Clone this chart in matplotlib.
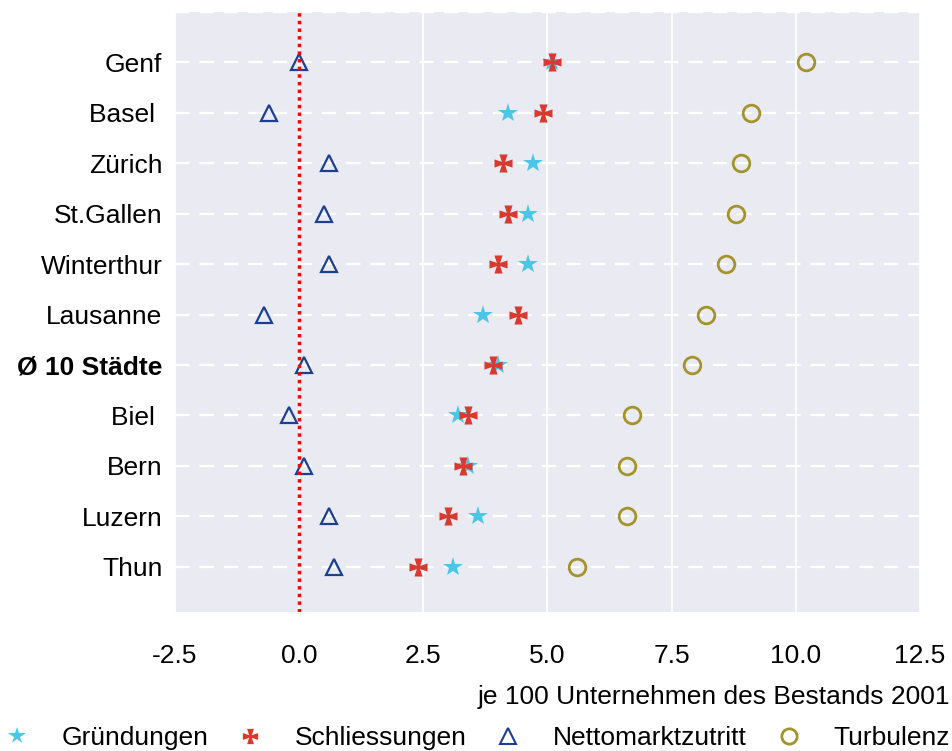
import matplotlib
matplotlib.use("Agg")
import matplotlib.pyplot as plt
from matplotlib.path import Path
from matplotlib.lines import Line2D
import numpy as np

cities = ["Genf", "Basel ", "Zürich", "St.Gallen", "Winterthur", "Lausanne",
          "Ø 10 Städte", "Biel ", "Bern", "Luzern", "Thun"]
gruendungen = [5.1, 4.2, 4.7, 4.6, 4.6, 3.7, 4.0, 3.2, 3.4, 3.6, 3.1]
schliessungen = [5.1, 4.9, 4.1, 4.2, 4.0, 4.4, 3.9, 3.4, 3.3, 3.0, 2.4]
netto = [0.0, -0.6, 0.6, 0.5, 0.6, -0.7, 0.1, -0.2, 0.1, 0.6, 0.7]
turbulenz = [10.2, 9.1, 8.9, 8.8, 8.6, 8.2, 7.9, 6.7, 6.6, 6.6, 5.6]
xticks = [-2.5, 0.0, 2.5, 5.0, 7.5, 10.0, 12.5]

c_star = "#4cc6e6"
c_cross = "#d93a2f"
c_tri = "#1c3f91"
c_circ = "#a3932c"
bg = "#eaeaf2"

# cross pattee marker
a, b = 0.18, 0.45
verts = [(a, a), (b, 1), (-b, 1), (-a, a), (-1, b), (-1, -b), (-a, -a),
         (-b, -1), (b, -1), (a, -a), (1, -b), (1, b), (a, a)]
codes = [Path.MOVETO] + [Path.LINETO] * (len(verts) - 2) + [Path.CLOSEPOLY]
cross = Path(verts, codes)

plt.rcParams['font.family'] = ['Liberation Sans', 'DejaVu Sans']
fs = 19

fig = plt.figure(figsize=(9.53, 7.51), dpi=100)
ax = fig.add_axes([175/953, 1-612/751, (920-175)/953, 600/751])
ax.set_facecolor(bg)
for s in ax.spines.values():
    s.set_visible(False)

n = len(cities)
y = np.arange(n, 0, -1)  # Genf at top

ax.set_xlim(-2.5, 12.5)
ax.set_ylim(0.1, 12)
ax.set_xticks(xticks)
ax.set_xticklabels([f"{v:.1f}" for v in xticks])
ax.set_yticks(list(y) + [12])
ax.set_yticklabels(cities + [""])
for lab in ax.get_yticklabels():
    if lab.get_text().startswith("Ø"):
        lab.set_fontweight("bold")
ax.tick_params(axis='both', length=0, labelsize=fs)
ax.tick_params(axis='x', pad=23)
ax.tick_params(axis='y', pad=9)

ax.set_axisbelow(True)
ax.grid(axis='x', color='white', linewidth=1.3, linestyle='-')
ax.grid(axis='y', color='white', linewidth=1.6, linestyle=(0, (6.5, 4.5)))

ax.plot(gruendungen, y, linestyle='none', marker='*', color=c_star, markersize=14.5,
        markeredgewidth=0, zorder=3)
ax.plot(schliessungen, y, linestyle='none', marker=cross, color=c_cross, markersize=13,
        markeredgewidth=0, zorder=4)
ax.plot(netto, y, linestyle='none', marker='^', markerfacecolor='none', markeredgecolor=c_tri,
        markersize=12, markeredgewidth=1.6, zorder=5)
ax.plot(turbulenz, y, linestyle='none', marker='o', markerfacecolor='none', markeredgecolor=c_circ,
        markersize=12, markeredgewidth=2, zorder=5)
ax.axvline(0, color='red', linestyle=(0, (1, 1.2)), linewidth=2.5, zorder=6)

fig.text(950/953, 1-697/751, "je 100 Unternehmen des Bestands 2001", ha='right', va='center',
         fontsize=fs)

handles = [
    Line2D([], [], linestyle='none', marker='*', color=c_star, markersize=13, markeredgewidth=0),
    Line2D([], [], linestyle='none', marker=cross, color=c_cross, markersize=11, markeredgewidth=0),
    Line2D([], [], linestyle='none', marker='^', markerfacecolor='none', markeredgecolor=c_tri,
           markersize=11, markeredgewidth=1.5),
    Line2D([], [], linestyle='none', marker='o', markerfacecolor='none', markeredgecolor=c_circ,
           markersize=11, markeredgewidth=2),
]
labels = ["Gründungen", "Schliessungen", "Nettomarktzutritt", "Turbulenz"]
fig.legend(handles, labels, loc='center', bbox_to_anchor=(477/953, 1-738/751), ncol=4,
           frameon=False, fontsize=fs, handlelength=1.0, handletextpad=1.2,
           columnspacing=1.07, borderaxespad=0, borderpad=0)

fig.savefig("out.png", dpi=100)
